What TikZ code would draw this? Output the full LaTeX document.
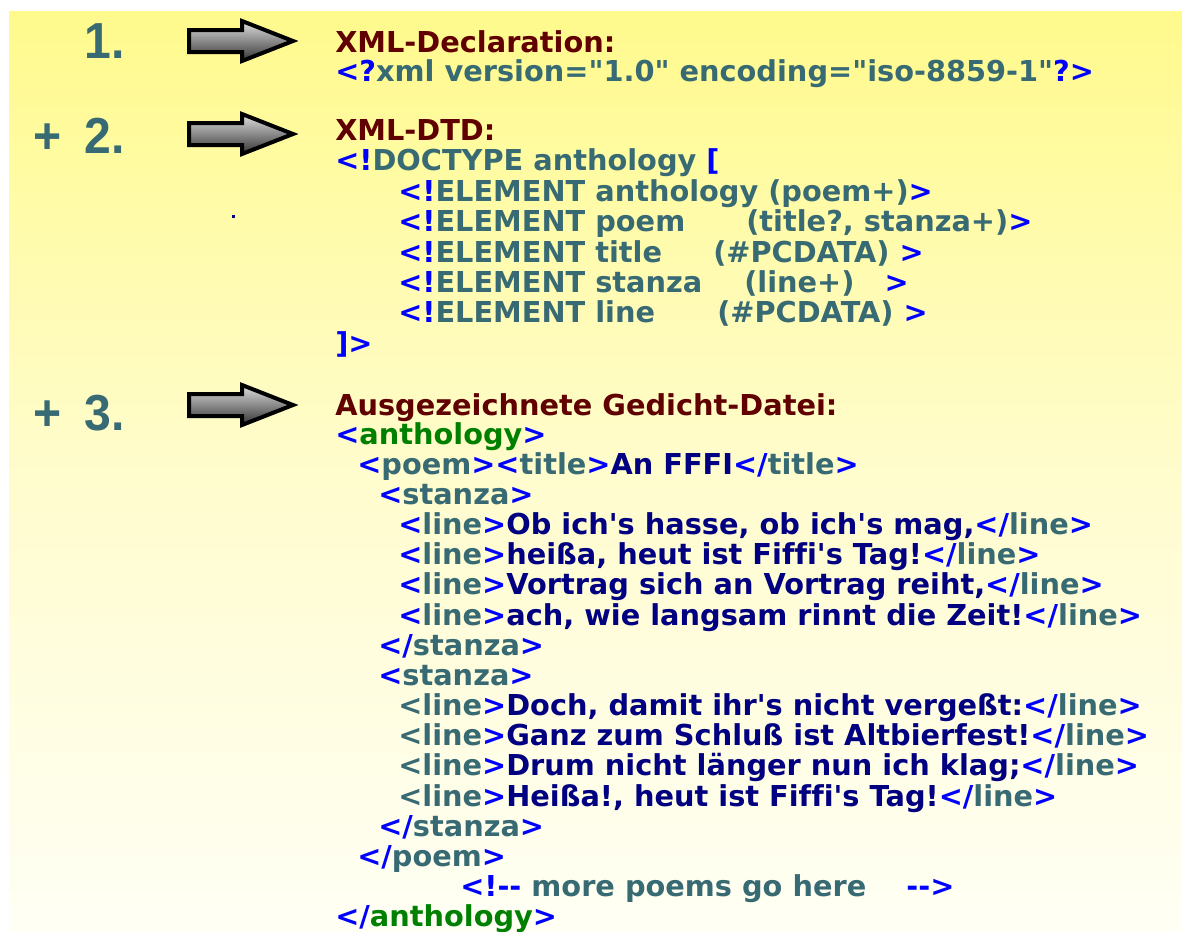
\documentclass[tikz,border=0pt]{standalone}
\usepackage{fontspec}
\newfontfamily\codefont{DejaVu Sans}[Ligatures={TeXOff,NoCommon}]
\newfontfamily\numfont{Liberation Sans}[FakeStretch=0.95]
\definecolor{tagblue}{RGB}{0,0,255}
\definecolor{nmteal}{RGB}{56,106,116}
\definecolor{hdred}{RGB}{96,0,0}
\definecolor{txtnavy}{RGB}{0,0,128}
\definecolor{tggreen}{RGB}{0,128,0}
\definecolor{bgtop}{RGB}{255,250,140}
\definecolor{bgmid}{RGB}{255,252,205}
\definecolor{bgbot}{RGB}{255,255,245}
\newcommand\Bl[1]{\textcolor{tagblue}{#1}}
\newcommand\Tl[1]{\textcolor{nmteal}{#1}}
\newcommand\Nv[1]{\textcolor{txtnavy}{#1}}
\newcommand\Gr[1]{\textcolor{tggreen}{#1}}
\newcommand\LN[1]{\Bl{<}\Tl{line}\Bl{>}\Nv{#1}\Bl{</}\Tl{line}\Bl{>}}
\newcommand\LT[1]{\Tl{<line}\Bl{>}\Nv{#1}\Bl{</}\Tl{line}\Bl{>}}
\tikzset{
  ln/.style={anchor=base west, inner sep=0pt, font=\codefont\bfseries\fontsize{21.6}{25}\selectfont},
  hd/.style={ln, text=hdred},
  num/.style={anchor=base east, inner sep=0pt, text=nmteal, font=\numfont\bfseries\fontsize{38}{42}\selectfont},
  fatarr/.style={draw=black, line width=3pt, line join=miter, top color=gray!25, bottom color=black!80}
}
\begin{document}
\begin{tikzpicture}[x=0.75pt,y=-0.75pt]
\useasboundingbox (0,0) rectangle (1182,932);
\fill[white] (0,0) rectangle (1182,932);
\shade[top color=bgtop, bottom color=bgbot, middle color=bgmid] (9,11) rectangle (1182,932);
% arrows
\foreach \c in {41,134,405}{
  \shadedraw[fatarr] (189,{\c-11}) -- (242,{\c-11}) -- (242,{\c-20}) -- (293,\c) -- (242,{\c+20}) -- (242,{\c+11}) -- (189,{\c+11}) -- cycle;
}
\fill[txtnavy] (232,215) rectangle (235,218);
% numbers
\node[num] (n1) at (125,58) {1.};
\node[num] (n2) at (125,153) {+\hspace{0.45em}2.};
\node[num] (n3) at (125,430) {+\hspace{0.45em}3.};
% section 1
\node[hd] (h1) at (335,52) {XML-Declaration:};
\node[ln] (d1) at (335,81) {\Bl{<?}\Tl{xml version="1.0" encoding="iso-8859-1"}\Bl{?>}};
% section 2
\node[hd] (h2) at (335,140) {XML-DTD:};
\node[ln] (t0) at (335,170) {\Bl{<!}\Tl{DOCTYPE anthology }\Bl{[}};
\node[ln] (t1) at (398,201) {\Bl{<!}\Tl{ELEMENT anthology}};
\node[ln] (t1b) at (768,201) {\Tl{(poem+)}\Bl{>}};
\node[ln] (t2) at (398,231) {\Bl{<!}\Tl{ELEMENT poem}};
\node[ln] (t2b) at (746,231) {\Tl{(title?, stanza+)}\Bl{>}};
\node[ln] (t3) at (398,262) {\Bl{<!}\Tl{ELEMENT title}};
\node[ln] (t3b) at (713,262) {\Tl{(\#PCDATA) }\Bl{>}};
\node[ln] (t4) at (398,292) {\Bl{<!}\Tl{ELEMENT stanza}};
\node[ln] (t4b) at (744,292) {\Tl{(line+)\ \ \ }\Bl{>}};
\node[ln] (t5) at (398,322) {\Bl{<!}\Tl{ELEMENT line}};
\node[ln] (t5b) at (717,322) {\Tl{(\#PCDATA) }\Bl{>}};
\node[ln] (t6) at (335,353) {\Bl{]>}};
% section 3
\node[hd] (h3) at (335,415) {Ausgezeichnete Gedicht-Datei:};
\node[ln] (x0) at (335,444) {\Bl{<}\Gr{anthology}\Bl{>}};
\node[ln] (x1) at (357,474) {\Bl{<}\Tl{poem}\Bl{>}\Bl{<}\Tl{title}\Bl{>}\Nv{An FFFI}\Bl{</}\Tl{title}\Bl{>}};
\node[ln] (x2) at (378,504) {\Bl{<}\Tl{stanza}\Bl{>}};
\node[ln] (x3) at (398,534) {\LN{Ob ich's hasse, ob ich's mag,}};
\node[ln] (x4) at (398,564) {\LN{heißa, heut ist Fiffi's Tag!}};
\node[ln] (x5) at (398,594) {\LN{Vortrag sich an Vortrag reiht,}};
\node[ln] (x6) at (398,625) {\LN{ach, wie langsam rinnt die Zeit!}};
\node[ln] (x7) at (378,655) {\Bl{</}\Tl{stanza}\Bl{>}};
\node[ln] (x8) at (378,685) {\Bl{<}\Tl{stanza}\Bl{>}};
\node[ln] (x9) at (398,715) {\LT{Doch, damit ihr's nicht vergeßt:}};
\node[ln] (x10) at (398,745) {\LT{Ganz zum Schluß ist Altbierfest!}};
\node[ln] (x11) at (398,775) {\LT{Drum nicht länger nun ich klag;}};
\node[ln] (x12) at (398,806) {\LT{Heißa!, heut ist Fiffi's Tag!}};
\node[ln] (x13) at (378,836) {\Bl{</}\Tl{stanza}\Bl{>}};
\node[ln] (x14) at (357,866) {\Bl{</}\Tl{poem}\Bl{>}};
\node[ln] (x15) at (460,896) {\Bl{<!--} \Tl{more poems go here}\ \ \ \ \Bl{-->}};
\node[ln] (x16) at (335,926) {\Bl{</}\Gr{anthology}\Bl{>}};
\end{tikzpicture}
\end{document}
